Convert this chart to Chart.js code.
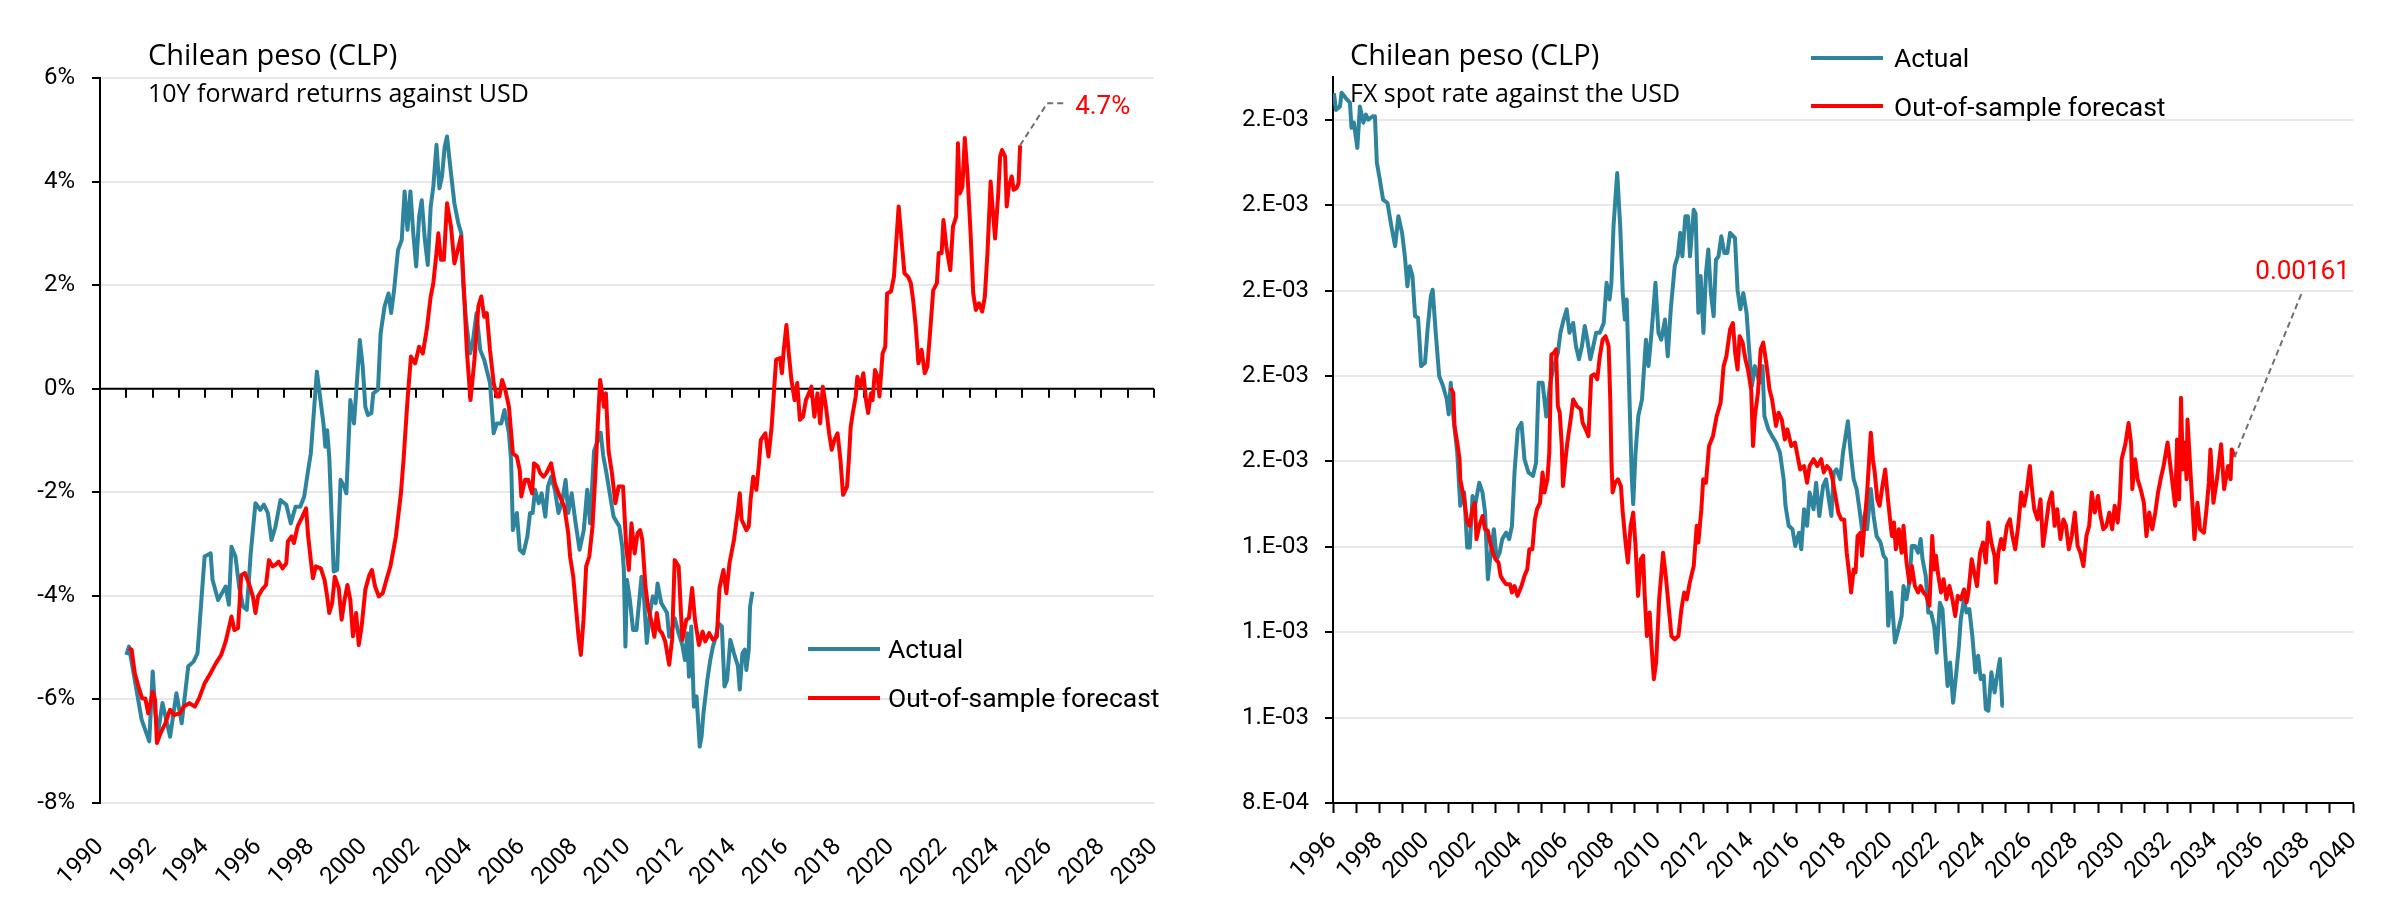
<!DOCTYPE html>
<html>
<head>
<meta charset="utf-8">
<script src="https://cdn.jsdelivr.net/npm/chart.js@4.4.1/dist/chart.umd.min.js"></script>
<style>
  body { margin: 0; background: #fff; }
  #wrap { position: relative; width: 2400px; height: 916px; overflow: hidden; }
  canvas { position: absolute; top: 0; }
  .title { position: absolute; font-family: 'Open Sans', sans-serif; color: #000; white-space: nowrap; }
  .t1 { font-size: 29px; line-height: 29px; }
  .t2 { font-size: 25px; line-height: 25px; }
  .sw { position: absolute; width: 72px; height: 4px; }
  .lg { position: absolute; font-family: Roboto, sans-serif; font-size: 26.5px; line-height: 26px; color: #000; white-space: nowrap; }
</style>
</head>
<body>
<div id="wrap">
  <canvas id="retChart" width="1200" height="916" style="left:0"></canvas>
  <canvas id="spotChart" width="1200" height="916" style="left:1200px"></canvas>

  <div class="title t1" style="left:148px;top:39px">Chilean peso (CLP)</div>
  <div class="title t2" style="left:148px;top:80px">10Y forward returns against USD</div>
  <div class="title t1" style="left:1350px;top:39px">Chilean peso (CLP)</div>
  <div class="title t2" style="left:1350px;top:80px">FX spot rate against the USD</div>

  <div class="sw" style="left:808px;top:647px;background:#2E849C"></div>
  <div class="lg" style="left:888px;top:636px">Actual</div>
  <div class="sw" style="left:808px;top:696px;background:#FF0000"></div>
  <div class="lg" style="left:888px;top:685px">Out-of-sample forecast</div>

  <div class="sw" style="left:1811px;top:56px;background:#2E849C"></div>
  <div class="lg" style="left:1894px;top:45px">Actual</div>
  <div class="sw" style="left:1811px;top:104px;background:#FF0000"></div>
  <div class="lg" style="left:1894px;top:94px">Out-of-sample forecast</div>
</div>

<script>
const TEAL = '#2E849C';
const RED = '#FF0000';

// ---- left chart: 10Y forward returns against USD (%) ----
const retActualYears = [1991.0,1991.1,1991.58,1991.87,1992.0,1992.1,1992.2,1992.37,1992.66,1992.9,1993.1,1993.35,1993.55,1993.7,1993.97,1994.2,1994.27,1994.48,1994.77,1994.89,1994.99,1995.14,1995.28,1995.43,1995.57,1995.72,1995.9,1996.08,1996.22,1996.37,1996.51,1996.66,1996.85,1997.07,1997.24,1997.42,1997.6,1997.75,1997.9,1998.0,1998.23,1998.48,1998.55,1998.62,1998.7,1998.87,1999.0,1999.13,1999.27,1999.35,1999.5,1999.64,1999.86,1999.97,2000.07,2000.17,2000.3,2000.37,2000.55,2000.65,2000.8,2000.95,2001.05,2001.16,2001.31,2001.45,2001.56,2001.67,2001.78,2001.89,2002.0,2002.11,2002.21,2002.33,2002.44,2002.55,2002.65,2002.77,2002.88,2002.98,2003.08,2003.17,2003.32,2003.45,2003.6,2003.71,2003.78,2003.89,2004.04,2004.14,2004.29,2004.43,2004.58,2004.8,2004.94,2005.06,2005.23,2005.35,2005.52,2005.6,2005.67,2005.82,2005.93,2006.07,2006.22,2006.32,2006.42,2006.51,2006.65,2006.76,2006.9,2007.0,2007.12,2007.26,2007.4,2007.55,2007.67,2007.77,2007.9,2008.05,2008.2,2008.36,2008.49,2008.6,2008.75,2009.0,2009.1,2009.2,2009.49,2009.71,2009.82,2009.88,2009.94,2010.0,2010.11,2010.23,2010.36,2010.55,2010.65,2010.75,2010.87,2010.98,2011.09,2011.16,2011.3,2011.52,2011.6,2011.71,2011.81,2011.96,2012.1,2012.2,2012.29,2012.35,2012.44,2012.54,2012.64,2012.76,2012.83,2012.9,2013.05,2013.16,2013.26,2013.34,2013.48,2013.6,2013.7,2013.8,2013.92,2014.06,2014.21,2014.28,2014.38,2014.47,2014.53,2014.62,2014.67,2014.76];
const retActual = [-5.14,-4.98,-6.39,-6.81,-5.46,-6.26,-6.65,-6.07,-6.72,-5.88,-6.46,-5.36,-5.27,-5.11,-3.24,-3.18,-3.69,-4.08,-3.82,-4.17,-3.05,-3.24,-3.82,-4.21,-4.27,-3.18,-2.21,-2.34,-2.24,-2.4,-2.92,-2.66,-2.15,-2.24,-2.6,-2.28,-2.28,-2.08,-1.57,-1.25,0.33,-0.67,-1.12,-0.8,-1.31,-3.53,-3.5,-1.76,-1.89,-2.02,-0.22,-0.67,0.94,0.43,-0.35,-0.51,-0.47,-0.09,-0.02,1.07,1.59,1.84,1.46,1.9,2.68,2.87,3.81,3.07,3.81,3.0,2.36,3.32,3.64,2.87,2.39,3.52,3.9,4.71,3.87,4.1,4.67,4.87,4.16,3.58,3.19,3.0,2.04,1.33,0.68,0.88,1.46,0.75,0.56,0.11,-0.86,-0.67,-0.67,-0.41,-0.86,-1.37,-2.73,-2.4,-3.11,-3.18,-2.85,-2.4,-2.4,-1.95,-2.21,-2.02,-2.47,-1.89,-1.7,-1.95,-2.4,-2.15,-1.76,-2.4,-2.02,-2.6,-3.11,-2.73,-1.95,-2.6,-1.2,-0.85,-1.3,-1.57,-2.47,-2.66,-3.05,-3.5,-4.98,-3.69,-4.08,-4.66,-4.66,-3.63,-4.08,-4.91,-4.33,-4.01,-4.14,-3.76,-4.14,-4.33,-4.79,-4.66,-4.43,-4.72,-4.95,-5.24,-4.72,-5.56,-4.59,-6.14,-5.94,-6.91,-6.72,-6.27,-5.62,-5.24,-4.98,-4.85,-4.53,-4.59,-5.75,-5.62,-4.85,-5.11,-5.36,-5.81,-5.11,-5.04,-5.43,-5.04,-4.21,-3.92];

const retForecastYears = [1991.1,1991.2,1991.32,1991.46,1991.6,1991.72,1991.83,1991.89,1992.0,1992.09,1992.16,1992.3,1992.48,1992.66,1992.81,1993.03,1993.18,1993.39,1993.6,1993.76,1993.97,1994.2,1994.4,1994.6,1994.77,1994.99,1995.1,1995.24,1995.36,1995.5,1995.65,1995.8,1995.9,1996.0,1996.15,1996.3,1996.41,1996.55,1996.66,1996.78,1996.93,1997.07,1997.13,1997.27,1997.36,1997.5,1997.68,1997.82,1997.9,1998.0,1998.08,1998.19,1998.38,1998.52,1998.62,1998.7,1998.81,1998.91,1999.06,1999.17,1999.28,1999.39,1999.5,1999.6,1999.72,1999.82,1999.93,2000.07,2000.22,2000.32,2000.44,2000.58,2000.73,2000.87,2001.02,2001.23,2001.42,2001.52,2001.67,2001.8,2001.96,2002.11,2002.25,2002.4,2002.55,2002.65,2002.77,2002.84,2002.94,2003.05,2003.17,2003.32,2003.45,2003.55,2003.7,2003.8,2003.92,2004.06,2004.21,2004.36,2004.47,2004.58,2004.68,2004.8,2004.94,2005.06,2005.16,2005.26,2005.38,2005.52,2005.67,2005.82,2005.93,2005.99,2006.13,2006.25,2006.32,2006.4,2006.47,2006.61,2006.71,2006.83,2006.94,2007.12,2007.26,2007.4,2007.62,2007.77,2007.84,2007.96,2008.06,2008.16,2008.25,2008.35,2008.45,2008.57,2008.69,2008.79,2008.9,2008.98,2009.13,2009.2,2009.3,2009.42,2009.56,2009.68,2009.85,2009.97,2010.07,2010.17,2010.29,2010.4,2010.5,2010.58,2010.7,2010.8,2010.94,2011.04,2011.13,2011.23,2011.33,2011.45,2011.6,2011.71,2011.81,2011.96,2012.1,2012.25,2012.35,2012.47,2012.58,2012.73,2012.87,2012.97,2013.12,2013.26,2013.41,2013.51,2013.66,2013.77,2013.89,2014.06,2014.21,2014.28,2014.35,2014.53,2014.62,2014.69,2014.79,2014.91,2015.01,2015.08,2015.25,2015.37,2015.49,2015.59,2015.66,2015.81,2015.88,2015.95,2016.05,2016.14,2016.24,2016.36,2016.46,2016.56,2016.68,2016.79,2016.9,2017.0,2017.11,2017.23,2017.33,2017.43,2017.55,2017.67,2017.77,2017.87,2017.99,2018.1,2018.2,2018.35,2018.42,2018.49,2018.57,2018.68,2018.74,2018.86,2018.97,2019.07,2019.15,2019.26,2019.32,2019.41,2019.51,2019.58,2019.7,2019.8,2019.87,2020.02,2020.13,2020.31,2020.42,2020.53,2020.67,2020.77,2020.86,2020.96,2021.06,2021.18,2021.3,2021.4,2021.5,2021.62,2021.76,2021.83,2021.94,2022.01,2022.12,2022.27,2022.37,2022.49,2022.56,2022.63,2022.73,2022.82,2022.92,2023.04,2023.14,2023.24,2023.36,2023.48,2023.58,2023.68,2023.8,2023.87,2023.97,2024.09,2024.16,2024.23,2024.35,2024.41,2024.49,2024.6,2024.67,2024.78,2024.86,2024.92];
const retForecast = [-5.01,-5.04,-5.49,-5.75,-5.98,-5.98,-6.27,-6.14,-5.85,-6.01,-6.84,-6.65,-6.46,-6.2,-6.3,-6.27,-6.14,-6.07,-6.14,-5.98,-5.69,-5.49,-5.3,-5.14,-4.88,-4.4,-4.66,-4.62,-3.6,-3.56,-3.76,-4.01,-4.33,-4.01,-3.88,-3.79,-3.31,-3.43,-3.4,-3.34,-3.47,-3.37,-2.95,-2.85,-2.98,-2.66,-2.47,-2.31,-2.85,-3.31,-3.66,-3.43,-3.47,-3.69,-4.01,-4.33,-4.14,-3.63,-3.85,-4.46,-4.08,-3.79,-4.08,-4.78,-4.33,-4.95,-4.59,-3.88,-3.6,-3.5,-3.82,-4.01,-3.95,-3.69,-3.43,-2.85,-2.02,-1.37,-0.22,0.62,0.49,0.81,0.68,1.14,1.78,2.04,2.62,3.0,2.49,2.49,3.58,3.13,2.42,2.62,2.94,2.04,0.75,-0.22,0.56,1.59,1.78,1.39,1.46,0.75,0.11,-0.15,-0.15,0.17,-0.02,-0.35,-1.25,-1.31,-1.57,-2.08,-1.76,-1.76,-1.89,-2.02,-1.44,-1.5,-1.63,-1.7,-1.63,-1.44,-1.83,-2.02,-2.28,-2.79,-3.24,-3.63,-4.21,-4.78,-5.14,-4.46,-3.43,-3.24,-2.66,-1.76,-0.6,0.17,-0.35,-0.09,-1.2,-1.6,-2.21,-1.89,-1.89,-3.05,-3.5,-2.6,-3.18,-2.79,-2.73,-2.92,-3.82,-4.21,-4.53,-4.79,-4.33,-4.66,-4.72,-4.88,-5.33,-4.85,-3.31,-3.43,-4.85,-4.46,-4.43,-3.85,-4.46,-4.95,-4.69,-4.88,-4.72,-4.85,-4.79,-3.85,-3.5,-3.95,-3.37,-2.92,-2.34,-2.02,-2.53,-2.73,-2.66,-2.15,-1.7,-1.95,-1.44,-0.99,-0.86,-1.31,-0.73,0.04,0.56,0.59,0.3,0.75,1.23,0.68,0.17,-0.22,0.11,-0.6,-0.54,-0.22,-0.09,0.04,-0.54,-0.09,-0.67,0.04,-0.35,-0.86,-1.18,-0.99,-0.86,-1.37,-2.05,-1.89,-1.37,-0.73,-0.47,-0.15,0.23,0.04,0.3,-0.22,-0.47,-0.09,-0.22,0.36,0.23,-0.15,0.68,0.81,1.84,1.88,2.16,3.52,2.87,2.23,2.16,2.04,1.71,1.2,0.49,0.75,0.3,0.43,1.07,1.9,2.04,2.62,2.62,3.26,2.74,2.29,3.13,3.32,4.74,3.77,3.9,4.84,4.16,3.0,1.84,1.52,1.65,1.49,1.78,2.62,4.0,3.52,2.9,3.77,4.48,4.61,4.48,3.52,3.9,4.1,3.84,3.87,3.97,4.7];

const retYTicks = { min: -8, max: 6, step: 2 };
const retXRange = { min: 1990, max: 2030 };

// ---- right chart: FX spot rate, USD per CLP (values in units of 1e-3) ----
const spotActualYears = [1996.04,1996.13,1996.3,1996.37,1996.56,1996.73,1996.8,1996.9,1997.05,1997.16,1997.31,1997.42,1997.52,1997.71,1997.81,1997.89,1998.02,1998.16,1998.35,1998.52,1998.68,1998.82,1998.98,1999.1,1999.21,1999.31,1999.43,1999.54,1999.67,1999.8,1999.97,2000.08,2000.22,2000.3,2000.42,2000.58,2000.75,2000.91,2000.99,2001.08,2001.2,2001.36,2001.49,2001.66,2001.79,2001.9,2002.02,2002.15,2002.31,2002.45,2002.56,2002.68,2002.81,2002.94,2003.06,2003.19,2003.3,2003.47,2003.6,2003.72,2003.83,2003.97,2004.13,2004.26,2004.43,2004.63,2004.76,2004.87,2005.04,2005.2,2005.37,2005.53,2005.7,2005.81,2005.95,2006.08,2006.2,2006.36,2006.48,2006.61,2006.74,2006.86,2006.97,2007.1,2007.23,2007.35,2007.51,2007.68,2007.8,2007.93,2008.01,2008.1,2008.26,2008.39,2008.5,2008.59,2008.67,2008.79,2008.89,2008.95,2009.05,2009.17,2009.33,2009.5,2009.61,2009.74,2009.91,2010.04,2010.16,2010.32,2010.44,2010.57,2010.74,2010.87,2010.98,2011.07,2011.2,2011.31,2011.4,2011.56,2011.64,2011.76,2011.86,2011.98,2012.09,2012.19,2012.3,2012.42,2012.52,2012.63,2012.75,2012.88,2013.01,2013.13,2013.34,2013.45,2013.57,2013.7,2013.84,2013.95,2014.07,2014.2,2014.4,2014.53,2014.61,2014.78,2014.94,2015.11,2015.28,2015.44,2015.52,2015.66,2015.82,2015.94,2016.1,2016.2,2016.32,2016.45,2016.56,2016.73,2016.84,2016.98,2017.14,2017.27,2017.39,2017.5,2017.6,2017.72,2017.88,2018.0,2018.21,2018.33,2018.46,2018.59,2018.71,2018.82,2018.96,2019.04,2019.2,2019.32,2019.45,2019.62,2019.75,2019.86,2019.95,2020.08,2020.24,2020.36,2020.53,2020.61,2020.74,2020.86,2020.97,2021.1,2021.24,2021.35,2021.43,2021.57,2021.68,2021.8,2021.93,2022.04,2022.18,2022.29,2022.39,2022.51,2022.62,2022.75,2022.89,2023.0,2023.08,2023.22,2023.33,2023.45,2023.58,2023.71,2023.83,2023.94,2024.07,2024.16,2024.27,2024.4,2024.54,2024.65,2024.77,2024.87,2024.93];
const spotActual = [2.462,2.423,2.431,2.463,2.45,2.44,2.381,2.393,2.334,2.431,2.393,2.412,2.4,2.408,2.408,2.3,2.26,2.213,2.205,2.15,2.104,2.174,2.135,2.08,2.01,2.057,2.034,1.94,1.936,1.823,1.831,1.909,1.987,2.002,1.909,1.8,1.776,1.745,1.71,1.784,1.7,1.62,1.496,1.527,1.398,1.398,1.519,1.503,1.55,1.527,1.48,1.324,1.386,1.441,1.371,1.386,1.418,1.433,1.418,1.449,1.574,1.675,1.69,1.605,1.574,1.566,1.597,1.784,1.784,1.705,1.784,1.823,1.854,1.901,1.932,1.956,1.901,1.924,1.87,1.839,1.87,1.917,1.885,1.839,1.87,1.901,1.901,1.924,2.018,1.979,2.018,2.15,2.275,2.15,1.994,1.932,1.979,1.745,1.56,1.5,1.62,1.706,1.745,1.885,1.823,1.901,2.018,1.901,1.885,1.932,1.846,1.956,2.057,2.08,2.135,2.08,2.174,2.174,2.08,2.189,2.18,1.948,2.034,1.901,2.041,2.096,1.994,1.94,2.072,2.08,2.127,2.088,2.088,2.135,2.123,2.002,1.956,1.994,1.948,1.862,1.776,1.823,1.784,1.823,1.706,1.675,1.659,1.644,1.62,1.558,1.496,1.449,1.441,1.402,1.433,1.394,1.488,1.449,1.527,1.488,1.55,1.472,1.542,1.558,1.511,1.472,1.574,1.581,1.558,1.62,1.694,1.62,1.558,1.535,1.488,1.441,1.48,1.441,1.535,1.472,1.425,1.41,1.379,1.371,1.215,1.293,1.176,1.2,1.238,1.308,1.277,1.316,1.402,1.402,1.386,1.418,1.371,1.332,1.246,1.246,1.215,1.152,1.269,1.254,1.168,1.074,1.129,1.035,1.106,1.168,1.23,1.277,1.246,1.254,1.191,1.106,1.145,1.09,1.098,1.02,1.016,1.106,1.059,1.098,1.137,1.028,1.028];

const spotForecastYears = [2001.08,2001.19,2001.24,2001.36,2001.46,2001.49,2001.66,2001.79,2001.9,2002.02,2002.12,2002.19,2002.31,2002.45,2002.56,2002.68,2002.78,2002.9,2003.01,2003.14,2003.23,2003.31,2003.47,2003.64,2003.72,2003.83,2003.96,2004.13,2004.26,2004.38,2004.47,2004.6,2004.71,2004.8,2004.93,2005.04,2005.12,2005.25,2005.33,2005.42,2005.53,2005.62,2005.7,2005.78,2005.87,2005.92,2006.03,2006.11,2006.25,2006.36,2006.52,2006.69,2006.77,2006.9,2007.02,2007.14,2007.27,2007.4,2007.51,2007.63,2007.76,2007.89,2007.96,2008.01,2008.06,2008.17,2008.29,2008.42,2008.5,2008.62,2008.72,2008.84,2008.95,2009.05,2009.16,2009.28,2009.38,2009.44,2009.54,2009.66,2009.74,2009.84,2009.94,2010.07,2010.24,2010.37,2010.49,2010.6,2010.74,2010.9,2011.03,2011.15,2011.26,2011.39,2011.56,2011.69,2011.76,2011.89,2011.97,2012.09,2012.22,2012.39,2012.55,2012.72,2012.85,2012.97,2013.13,2013.25,2013.35,2013.45,2013.54,2013.67,2013.79,2013.9,2014.04,2014.12,2014.2,2014.33,2014.45,2014.56,2014.69,2014.83,2014.94,2015.11,2015.22,2015.36,2015.49,2015.6,2015.77,2015.93,2016.15,2016.32,2016.45,2016.56,2016.73,2016.89,2017.06,2017.17,2017.31,2017.44,2017.55,2017.67,2017.8,2017.93,2018.05,2018.16,2018.26,2018.35,2018.46,2018.54,2018.63,2018.76,2018.82,2018.92,2019.04,2019.2,2019.29,2019.37,2019.48,2019.58,2019.7,2019.82,2019.91,2020.03,2020.11,2020.2,2020.28,2020.41,2020.53,2020.61,2020.74,2020.86,2020.97,2021.1,2021.24,2021.35,2021.47,2021.6,2021.73,2021.85,2021.93,2022.01,2022.09,2022.23,2022.34,2022.46,2022.59,2022.72,2022.84,2022.95,2023.08,2023.22,2023.33,2023.41,2023.55,2023.66,2023.78,2023.91,2024.04,2024.16,2024.27,2024.4,2024.54,2024.6,2024.7,2024.82,2024.93,2025.07,2025.2,2025.31,2025.43,2025.56,2025.69,2025.81,2025.92,2026.06,2026.14,2026.25,2026.39,2026.52,2026.63,2026.75,2026.88,2027.01,2027.13,2027.24,2027.38,2027.51,2027.62,2027.74,2027.87,2028.0,2028.12,2028.24,2028.37,2028.5,2028.62,2028.73,2028.86,2029.0,2029.11,2029.23,2029.36,2029.49,2029.61,2029.72,2029.85,2029.94,2030.02,2030.18,2030.32,2030.43,2030.48,2030.6,2030.71,2030.84,2030.98,2031.09,2031.21,2031.34,2031.47,2031.59,2031.7,2031.83,2032.0,2032.33,2032.41,2032.5,2032.58,2032.66,2032.74,2032.82,2032.86,2032.99,2033.07,2033.16,2033.29,2033.4,2033.57,2033.68,2033.78,2033.85,2033.98,2034.15,2034.31,2034.44,2034.61,2034.72,2034.77,2034.89];
const spotForecast = [1.772,1.76,1.683,1.644,1.605,1.558,1.511,1.457,1.449,1.488,1.503,1.418,1.449,1.472,1.441,1.437,1.41,1.386,1.371,1.363,1.332,1.324,1.312,1.312,1.293,1.308,1.285,1.308,1.332,1.347,1.394,1.394,1.464,1.488,1.503,1.574,1.527,1.558,1.62,1.85,1.854,1.862,1.729,1.714,1.636,1.542,1.605,1.644,1.698,1.745,1.729,1.722,1.69,1.675,1.659,1.8,1.804,1.792,1.846,1.885,1.893,1.87,1.745,1.605,1.527,1.55,1.558,1.542,1.48,1.41,1.363,1.449,1.48,1.402,1.285,1.371,1.379,1.293,1.191,1.246,1.168,1.09,1.129,1.277,1.386,1.324,1.254,1.191,1.183,1.191,1.254,1.293,1.277,1.316,1.355,1.449,1.41,1.488,1.558,1.55,1.636,1.659,1.706,1.737,1.823,1.846,1.909,1.924,1.854,1.815,1.893,1.878,1.839,1.815,1.768,1.636,1.706,1.76,1.862,1.878,1.831,1.768,1.745,1.683,1.714,1.698,1.651,1.675,1.636,1.644,1.581,1.589,1.55,1.589,1.605,1.589,1.605,1.574,1.589,1.581,1.558,1.519,1.48,1.464,1.464,1.386,1.34,1.293,1.347,1.34,1.425,1.433,1.379,1.449,1.527,1.667,1.605,1.574,1.511,1.496,1.542,1.581,1.527,1.464,1.425,1.457,1.394,1.441,1.386,1.449,1.363,1.316,1.355,1.308,1.293,1.308,1.293,1.285,1.262,1.425,1.347,1.379,1.34,1.293,1.324,1.277,1.308,1.277,1.238,1.285,1.277,1.3,1.27,1.293,1.371,1.34,1.308,1.386,1.41,1.363,1.457,1.41,1.379,1.316,1.386,1.418,1.394,1.449,1.464,1.425,1.394,1.449,1.527,1.496,1.527,1.589,1.542,1.488,1.464,1.511,1.402,1.449,1.503,1.527,1.449,1.488,1.418,1.464,1.449,1.394,1.425,1.48,1.402,1.386,1.355,1.425,1.449,1.527,1.48,1.519,1.472,1.441,1.449,1.48,1.441,1.496,1.457,1.511,1.605,1.64,1.69,1.64,1.535,1.605,1.558,1.535,1.503,1.425,1.48,1.441,1.48,1.527,1.558,1.589,1.644,1.496,1.651,1.511,1.749,1.581,1.644,1.558,1.698,1.574,1.503,1.418,1.503,1.441,1.433,1.488,1.55,1.628,1.503,1.566,1.64,1.535,1.589,1.558,1.628,1.61];

const spotYTicks = { min: 0.8, max: 2.5, step: 0.2, top: 2.4 };
const spotXRange = { min: 1996, max: 2040 };
const SPOT_UNIT = 1e-3;

function toPoints(xs, ys) {
  return xs.map((x, i) => ({ x: x, y: ys[i] }));
}

function sciLabel(v) {
  // Excel "0.E+00" style
  const parts = (v * SPOT_UNIT).toExponential(0).split('e');
  const e = parseInt(parts[1], 10);
  return parts[0] + '.E' + (e < 0 ? '-' : '+') + String(Math.abs(e)).padStart(2, '0');
}

const tickFont = { family: 'Roboto', size: 24 };

// black axis line at 0% with yearly tick marks (left chart)
const zeroAxis = {
  id: 'zeroAxis',
  beforeDatasetsDraw(chart) {
    const { ctx, scales: { x, y } } = chart;
    const y0 = y.getPixelForValue(0);
    ctx.save();
    ctx.strokeStyle = '#000';
    ctx.lineWidth = 2;
    ctx.beginPath();
    ctx.moveTo(x.left, y0);
    ctx.lineTo(x.right, y0);
    x.ticks.forEach(t => {
      const px = Math.round(x.getPixelForValue(t.value));
      ctx.moveTo(px, y0);
      ctx.lineTo(px, y0 + 9);
    });
    ctx.stroke();
    ctx.restore();
  }
};

// dashed leader from the last forecast point to its value label
const callout = {
  id: 'callout',
  afterDatasetsDraw(chart, args, opts) {
    const meta = chart.getDatasetMeta(opts.dataset);
    const pt = meta.data[meta.data.length - 1];
    const { ctx } = chart;
    ctx.save();
    ctx.strokeStyle = '#707070';
    ctx.lineWidth = 2;
    ctx.setLineDash([6, 4]);
    ctx.beginPath();
    ctx.moveTo(pt.x, pt.y);
    opts.path.forEach(p => ctx.lineTo(pt.x + p[0], pt.y + p[1]));
    ctx.stroke();
    ctx.setLineDash([]);
    ctx.fillStyle = RED;
    ctx.font = '26px Roboto';
    ctx.textAlign = opts.align;
    ctx.textBaseline = 'alphabetic';
    ctx.fillText(opts.text, pt.x + opts.textAt[0], pt.y + opts.textAt[1]);
    ctx.restore();
  }
};

Chart.defaults.font.family = 'Roboto';
Chart.defaults.color = '#000';

new Chart(document.getElementById('retChart'), {
  type: 'line',
  data: {
    datasets: [
      { label: 'Out-of-sample forecast', data: toPoints(retForecastYears, retForecast), borderColor: RED, borderWidth: 4, pointRadius: 0, borderJoinStyle: 'round', order: 0 },
      { label: 'Actual', data: toPoints(retActualYears, retActual), borderColor: TEAL, borderWidth: 4, pointRadius: 0, borderJoinStyle: 'round', order: 1 }
    ]
  },
  options: {
    responsive: false,
    animation: false,
    devicePixelRatio: 1,
    layout: { padding: { left: 0, right: 46, top: 78, bottom: 0 } },
    plugins: {
      legend: { display: false },
      tooltip: { enabled: false },
      callout: {
        dataset: 0,
        path: [[27, -42], [44, -42]],
        text: retForecast[retForecast.length - 1].toFixed(1) + '%',
        textAt: [55, -31],
        align: 'left'
      }
    },
    scales: {
      x: {
        type: 'linear',
        min: retXRange.min,
        max: retXRange.max,
        ticks: {
          stepSize: 1,
          autoSkip: false,
          minRotation: 45,
          maxRotation: 45,
          padding: 22,
          font: tickFont,
          callback: v => (v % 2 === 0 ? String(v) : '')
        },
        grid: { display: false },
        border: { display: false },
        afterFit: s => { s.height = 113; s.paddingLeft = 0; s.paddingRight = 0; }
      },
      y: {
        min: retYTicks.min,
        max: retYTicks.max,
        ticks: { stepSize: retYTicks.step, padding: 17, font: tickFont, callback: v => v + '%' },
        grid: { color: '#e8e8e8', lineWidth: 2, tickColor: '#000', tickLength: 8, tickWidth: 2 },
        border: { color: '#000', width: 2 },
        afterFit: s => { s.width = 100; s.paddingTop = 0; s.paddingBottom = 0; }
      }
    }
  },
  plugins: [zeroAxis, callout]
});

new Chart(document.getElementById('spotChart'), {
  type: 'line',
  data: {
    datasets: [
      { label: 'Out-of-sample forecast', data: toPoints(spotForecastYears, spotForecast), borderColor: RED, borderWidth: 4, pointRadius: 0, borderJoinStyle: 'round', order: 0 },
      { label: 'Actual', data: toPoints(spotActualYears, spotActual), borderColor: TEAL, borderWidth: 4, pointRadius: 0, borderJoinStyle: 'round', order: 1 }
    ]
  },
  options: {
    responsive: false,
    animation: false,
    devicePixelRatio: 1,
    layout: { padding: { left: 0, right: 47, top: 77, bottom: 0 } },
    plugins: {
      legend: { display: false },
      tooltip: { enabled: false },
      callout: {
        dataset: 0,
        path: [[68, -166]],
        text: (spotForecast[spotForecast.length - 1] * SPOT_UNIT).toFixed(5),
        textAt: [68, -178],
        align: 'center'
      }
    },
    scales: {
      x: {
        type: 'linear',
        min: spotXRange.min,
        max: spotXRange.max,
        ticks: {
          stepSize: 1,
          autoSkip: false,
          minRotation: 45,
          maxRotation: 45,
          padding: 14,
          font: tickFont,
          callback: v => (v % 2 === 0 ? String(v) : '')
        },
        grid: { display: true, drawOnChartArea: false, drawTicks: true, color: '#000', tickColor: '#000', tickLength: 10, tickWidth: 2 },
        border: { display: true, color: '#000', width: 2 },
        afterFit: s => { s.height = 113; s.paddingLeft = 0; s.paddingRight = 0; }
      },
      y: {
        min: spotYTicks.min,
        max: spotYTicks.max,
        afterBuildTicks: s => { s.ticks = s.ticks.filter(t => t.value <= spotYTicks.top + 1e-6); },
        ticks: { stepSize: spotYTicks.step, includeBounds: false, padding: 16, font: tickFont, callback: v => sciLabel(v) },
        grid: { color: '#e8e8e8', lineWidth: 2, tickColor: '#000', tickLength: 8, tickWidth: 2 },
        border: { color: '#000', width: 2 },
        afterFit: s => { s.width = 133; s.paddingTop = 0; s.paddingBottom = 0; }
      }
    }
  },
  plugins: [callout]
});
</script>
</body>
</html>
